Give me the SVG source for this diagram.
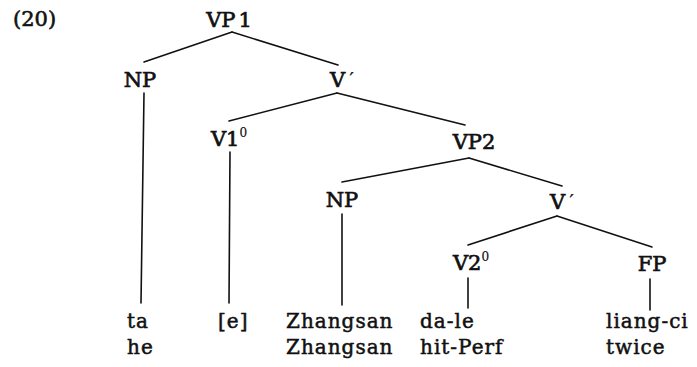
<svg xmlns="http://www.w3.org/2000/svg" width="697" height="367" viewBox="0 0 697 367">
<style>
  text { font-family: "DejaVu Serif", "Liberation Serif", serif; fill: #111; }
  .lab { font-size: 21px; text-anchor: middle; stroke: #111; stroke-width: 0.7px; }
  .leaf { font-size: 20px; letter-spacing: 1px; stroke: #111; stroke-width: 0.5px; }
  .sup { font-size: 12px; stroke-width: 0.2px; }
  .prime { stroke-width: 0.2px; }
  .edges line { stroke: #111; stroke-width: 1.6; stroke-linecap: round; }
</style>
<rect width="697" height="367" fill="#fff"/>
<text id="ex" x="13" y="26" style="font-size:21px; stroke:#111; stroke-width:0.6px">(20)</text>
<g class="edges" id="connectors">
  <line x1="232" y1="32" x2="144" y2="62"/>
  <line x1="232" y1="32" x2="338" y2="65"/>
  <line x1="144" y1="93" x2="141" y2="303"/>
  <line x1="337" y1="93" x2="229" y2="121"/>
  <line x1="337" y1="93" x2="465" y2="125"/>
  <line x1="230" y1="152" x2="229" y2="303"/>
  <line x1="469" y1="158" x2="342" y2="182"/>
  <line x1="469" y1="158" x2="562" y2="186"/>
  <line x1="342" y1="214" x2="342" y2="305"/>
  <line x1="557" y1="216" x2="468" y2="245"/>
  <line x1="557" y1="216" x2="652" y2="247"/>
  <line x1="468" y1="278" x2="468" y2="308"/>
  <line x1="650" y1="279" x2="650" y2="310"/>
</g>
<g id="VP1"><text class="lab" x="229" y="27">VP<tspan dx="3">1</tspan></text></g>
<g id="NP1"><text class="lab" x="140" y="87">NP</text></g>
<g id="Vbar1"><text class="lab" x="342" y="87">V<tspan class="prime" dx="4">′</tspan></text></g>
<g id="V1"><text class="lab" x="229" y="146">V1<tspan class="sup" dy="-9">0</tspan></text></g>
<g id="VP2"><text class="lab" x="474" y="149">VP2</text></g>
<g id="NP2"><text class="lab" x="342" y="207">NP</text></g>
<g id="Vbar2"><text class="lab" x="562" y="209">V<tspan class="prime" dx="4">′</tspan></text></g>
<g id="V2"><text class="lab" x="471" y="270">V2<tspan class="sup" dy="-9">0</tspan></text></g>
<g id="FP"><text class="lab" x="652" y="271">FP</text></g>
<g id="leaf-ta"><text class="leaf" x="127" y="328">ta</text><text class="leaf" x="127" y="354">he</text></g>
<g id="leaf-e"><text class="leaf" x="218" y="328">[e]</text></g>
<g id="leaf-zs"><text class="leaf" x="286" y="328">Zhangsan</text><text class="leaf" x="286" y="354">Zhangsan</text></g>
<g id="leaf-dale"><text class="leaf" x="420" y="328">da-le</text><text class="leaf" x="420" y="354">hit-Perf</text></g>
<g id="leaf-lc"><text class="leaf" x="606" y="328">liang-ci</text><text class="leaf" x="606" y="354">twice</text></g>
</svg>
